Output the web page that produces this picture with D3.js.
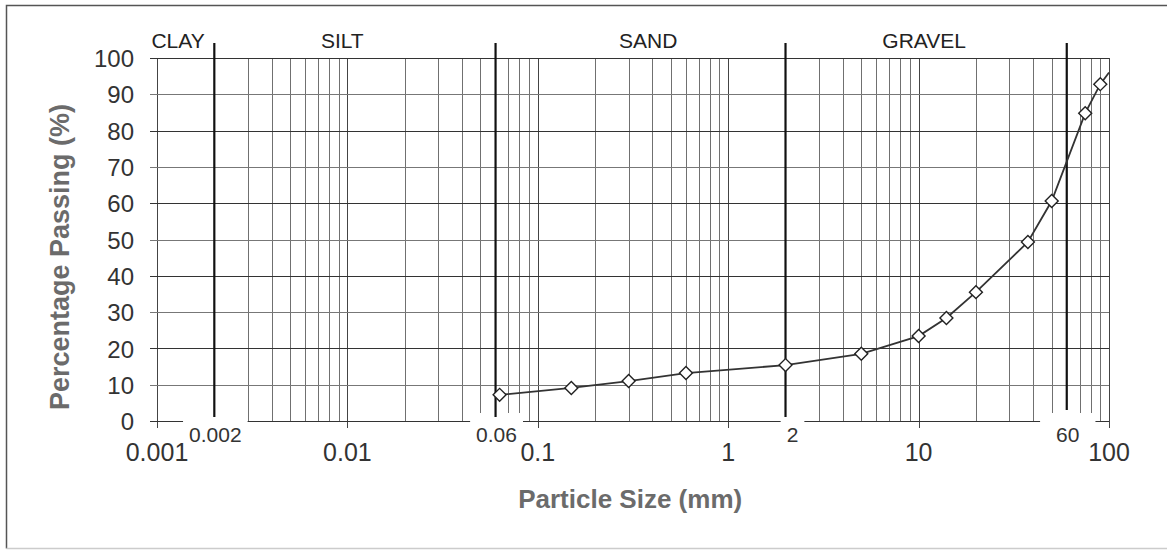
<!DOCTYPE html>
<html>
<head>
<meta charset="utf-8">
<script src="https://cdn.jsdelivr.net/npm/d3@7"></script>
<style>
  body { margin: 0; background: #fff; overflow: hidden; }
  svg { font-family: "Liberation Sans", Arial, sans-serif; display: block; }
</style>
</head>
<body>
<svg id="chart"></svg>
<script>
// grading curve read from the sheet
var sieveSizes = [0.063, 0.15, 0.3, 0.6, 2, 5, 10, 14, 20, 37.5, 50, 75, 90];
var percentPassing = [7.2, 9.1, 11, 13.2, 15.4, 18.5, 23.4, 28.4, 35.5, 49.3, 60.6, 84.8, 92.8];
var curveEnd = [100, 96]; // line carries on past the last marker

var decades = [0.001, 0.01, 0.1, 1, 10, 100];
var decadeLabels = ["0.001", "0.01", "0.1", "1", "10", "100"];
var yTicks = [0, 10, 20, 30, 40, 50, 60, 70, 80, 90, 100];

var boundaries = [0.002, 0.06, 2, 60];
var boundaryLabels = ["0.002", "0.06", "2", "60"];
var soilClasses = ["CLAY", "SILT", "SAND", "GRAVEL"];
var soilClassAt = [0.00129, 0.0094, 0.38, 10.7];

var screen = {width: 1167, height: 551};
var plot = {left: 157, right: 1109, top: 58, bottom: 421};

var svg = d3.select("#chart")
    .attr("width", screen.width)
    .attr("height", screen.height);

var xScale = d3.scaleLog()
    .domain([0.001, 100])
    .range([plot.left, plot.right]);

var yScale = d3.scaleLinear()
    .domain([0, 100])
    .range([plot.bottom, plot.top]);

// outer frame of the sheet (open on the right)
var frame = svg.append("g")
    .attr("fill", "none")
    .attr("stroke-width", 1.5);
frame.append("path")
    .attr("d", "M" + screen.width + ",5.5H6.5V548.5")
    .attr("stroke", "#555");
frame.append("path")
    .attr("d", "M6.5,548.5H" + screen.width)
    .attr("stroke", "#ccc");

// minor vertical grid (2..9 in each decade)
var minor = [];
decades.slice(0, 5).forEach(function(d){
    for (var k = 2; k <= 9; k++) {
        var v = +(d * k).toPrecision(3);
        if (boundaries.indexOf(v) < 0) minor.push(v);
    }
});

svg.append("g")
    .selectAll("line")
    .data(minor)
    .enter()
    .append("line")
    .attr("x1", function(d){ return Math.round(xScale(d)) + 0.5; })
    .attr("x2", function(d){ return Math.round(xScale(d)) + 0.5; })
    .attr("y1", yScale(100))
    .attr("y2", yScale(0))
    .attr("stroke", "#707070")
    .attr("stroke-width", 1);

// decade lines, run a little below the axis
svg.append("g")
    .selectAll("line")
    .data(decades)
    .enter()
    .append("line")
    .attr("x1", function(d){ return Math.round(xScale(d)) + 0.5; })
    .attr("x2", function(d){ return Math.round(xScale(d)) + 0.5; })
    .attr("y1", yScale(100))
    .attr("y2", yScale(0) + 7)
    .attr("stroke", "#444")
    .attr("stroke-width", 1);

// horizontal grid with little stubs on the left
svg.append("g")
    .selectAll("line")
    .data(yTicks)
    .enter()
    .append("line")
    .attr("x1", plot.left - 7)
    .attr("x2", plot.right)
    .attr("y1", function(d){ return Math.round(yScale(d)) + 0.5; })
    .attr("y2", function(d){ return Math.round(yScale(d)) + 0.5; })
    .attr("stroke", function(d){ return d % 20 == 0 ? "#333" : "#777"; })
    .attr("stroke-width", 1);

// y axis labels
var yAxis = d3.axisLeft(yScale)
    .tickValues(yTicks)
    .tickSize(0)
    .tickPadding(0);

svg.append("g")
    .attr("transform", "translate(134,0)")
    .call(yAxis)
    .call(function(g){ g.select(".domain").remove(); })
    .selectAll("text")
    .attr("font-family", "Liberation Sans, Arial, sans-serif")
    .attr("font-size", 24)
    .attr("fill", "#333")
    .attr("dy", "0.36em");

// decade labels under the axis
svg.append("g")
    .selectAll("text")
    .data(decades)
    .enter()
    .append("text")
    .attr("x", function(d){ return xScale(d); })
    .attr("y", 461)
    .attr("text-anchor", "middle")
    .attr("font-size", 25)
    .attr("fill", "#333")
    .text(function(d, i){ return decadeLabels[i]; });

// boundary labels sit on white boxes that cut the base line
var bl = svg.append("g")
    .selectAll("g")
    .data(boundaries)
    .enter()
    .append("g");

bl.append("rect").attr("fill", "#fff");

bl.append("text")
    .attr("x", function(d, i){ return xScale(d) + (i == 2 ? 7 : 1); })
    .attr("y", 442)
    .attr("text-anchor", "middle")
    .attr("font-size", 21)
    .attr("fill", "#333")
    .text(function(d, i){ return boundaryLabels[i]; });

bl.each(function(d, i){
    var g = d3.select(this);
    var b = g.select("text").node().getBBox();
    var pad = i == 3 ? 16 : 6;
    g.select("rect")
        .attr("x", b.x - pad)
        .attr("y", 413)
        .attr("width", b.width + pad * 2)
        .attr("height", 30);
});

// class boundaries
svg.append("g")
    .selectAll("line")
    .data(boundaries)
    .enter()
    .append("line")
    .attr("x1", function(d){ return xScale(d); })
    .attr("x2", function(d){ return xScale(d); })
    .attr("y1", 43)
    .attr("y2", function(d, i){ return i == 3 ? 410 : 417; })
    .attr("stroke", "#111")
    .attr("stroke-width", 2.2);

// class names along the top
svg.append("g")
    .selectAll("text")
    .data(soilClasses)
    .enter()
    .append("text")
    .attr("x", function(d, i){ return xScale(soilClassAt[i]); })
    .attr("y", 48)
    .attr("text-anchor", "middle")
    .attr("font-size", 21)
    .attr("fill", "#222")
    .text(function(d){ return d; });

// grading curve
var pts = sieveSizes.map(function(s, i){ return [s, percentPassing[i]]; });
var curve = pts.concat([curveEnd]);

svg.append("path")
    .datum(curve)
    .attr("fill", "none")
    .attr("stroke", "#333")
    .attr("stroke-width", 1.8)
    .attr("d", d3.line()
        .x(function(d){ return xScale(d[0]); })
        .y(function(d){ return yScale(d[1]); }));

svg.append("g")
    .selectAll("path")
    .data(pts)
    .enter()
    .append("path")
    .attr("d", d3.symbol().type(d3.symbolSquare).size(84))
    .attr("transform", function(d){
        return "translate(" + xScale(d[0]) + "," + yScale(d[1]) + ") rotate(45)";
    })
    .attr("fill", "#fff")
    .attr("stroke", "#222")
    .attr("stroke-width", 1.4);

// axis titles
svg.append("text")
    .attr("x", xScale(1) - 98)
    .attr("y", 508)
    .attr("text-anchor", "middle")
    .attr("font-size", 26)
    .attr("font-weight", "bold")
    .attr("fill", "#6b6b6b")
    .text("Particle Size (mm)");

svg.append("text")
    .attr("transform", "translate(69,257) rotate(-90)")
    .attr("text-anchor", "middle")
    .attr("font-size", 27)
    .attr("font-weight", "bold")
    .attr("fill", "#6b6b6b")
    .text("Percentage Passing (%)");
</script>
</body>
</html>
